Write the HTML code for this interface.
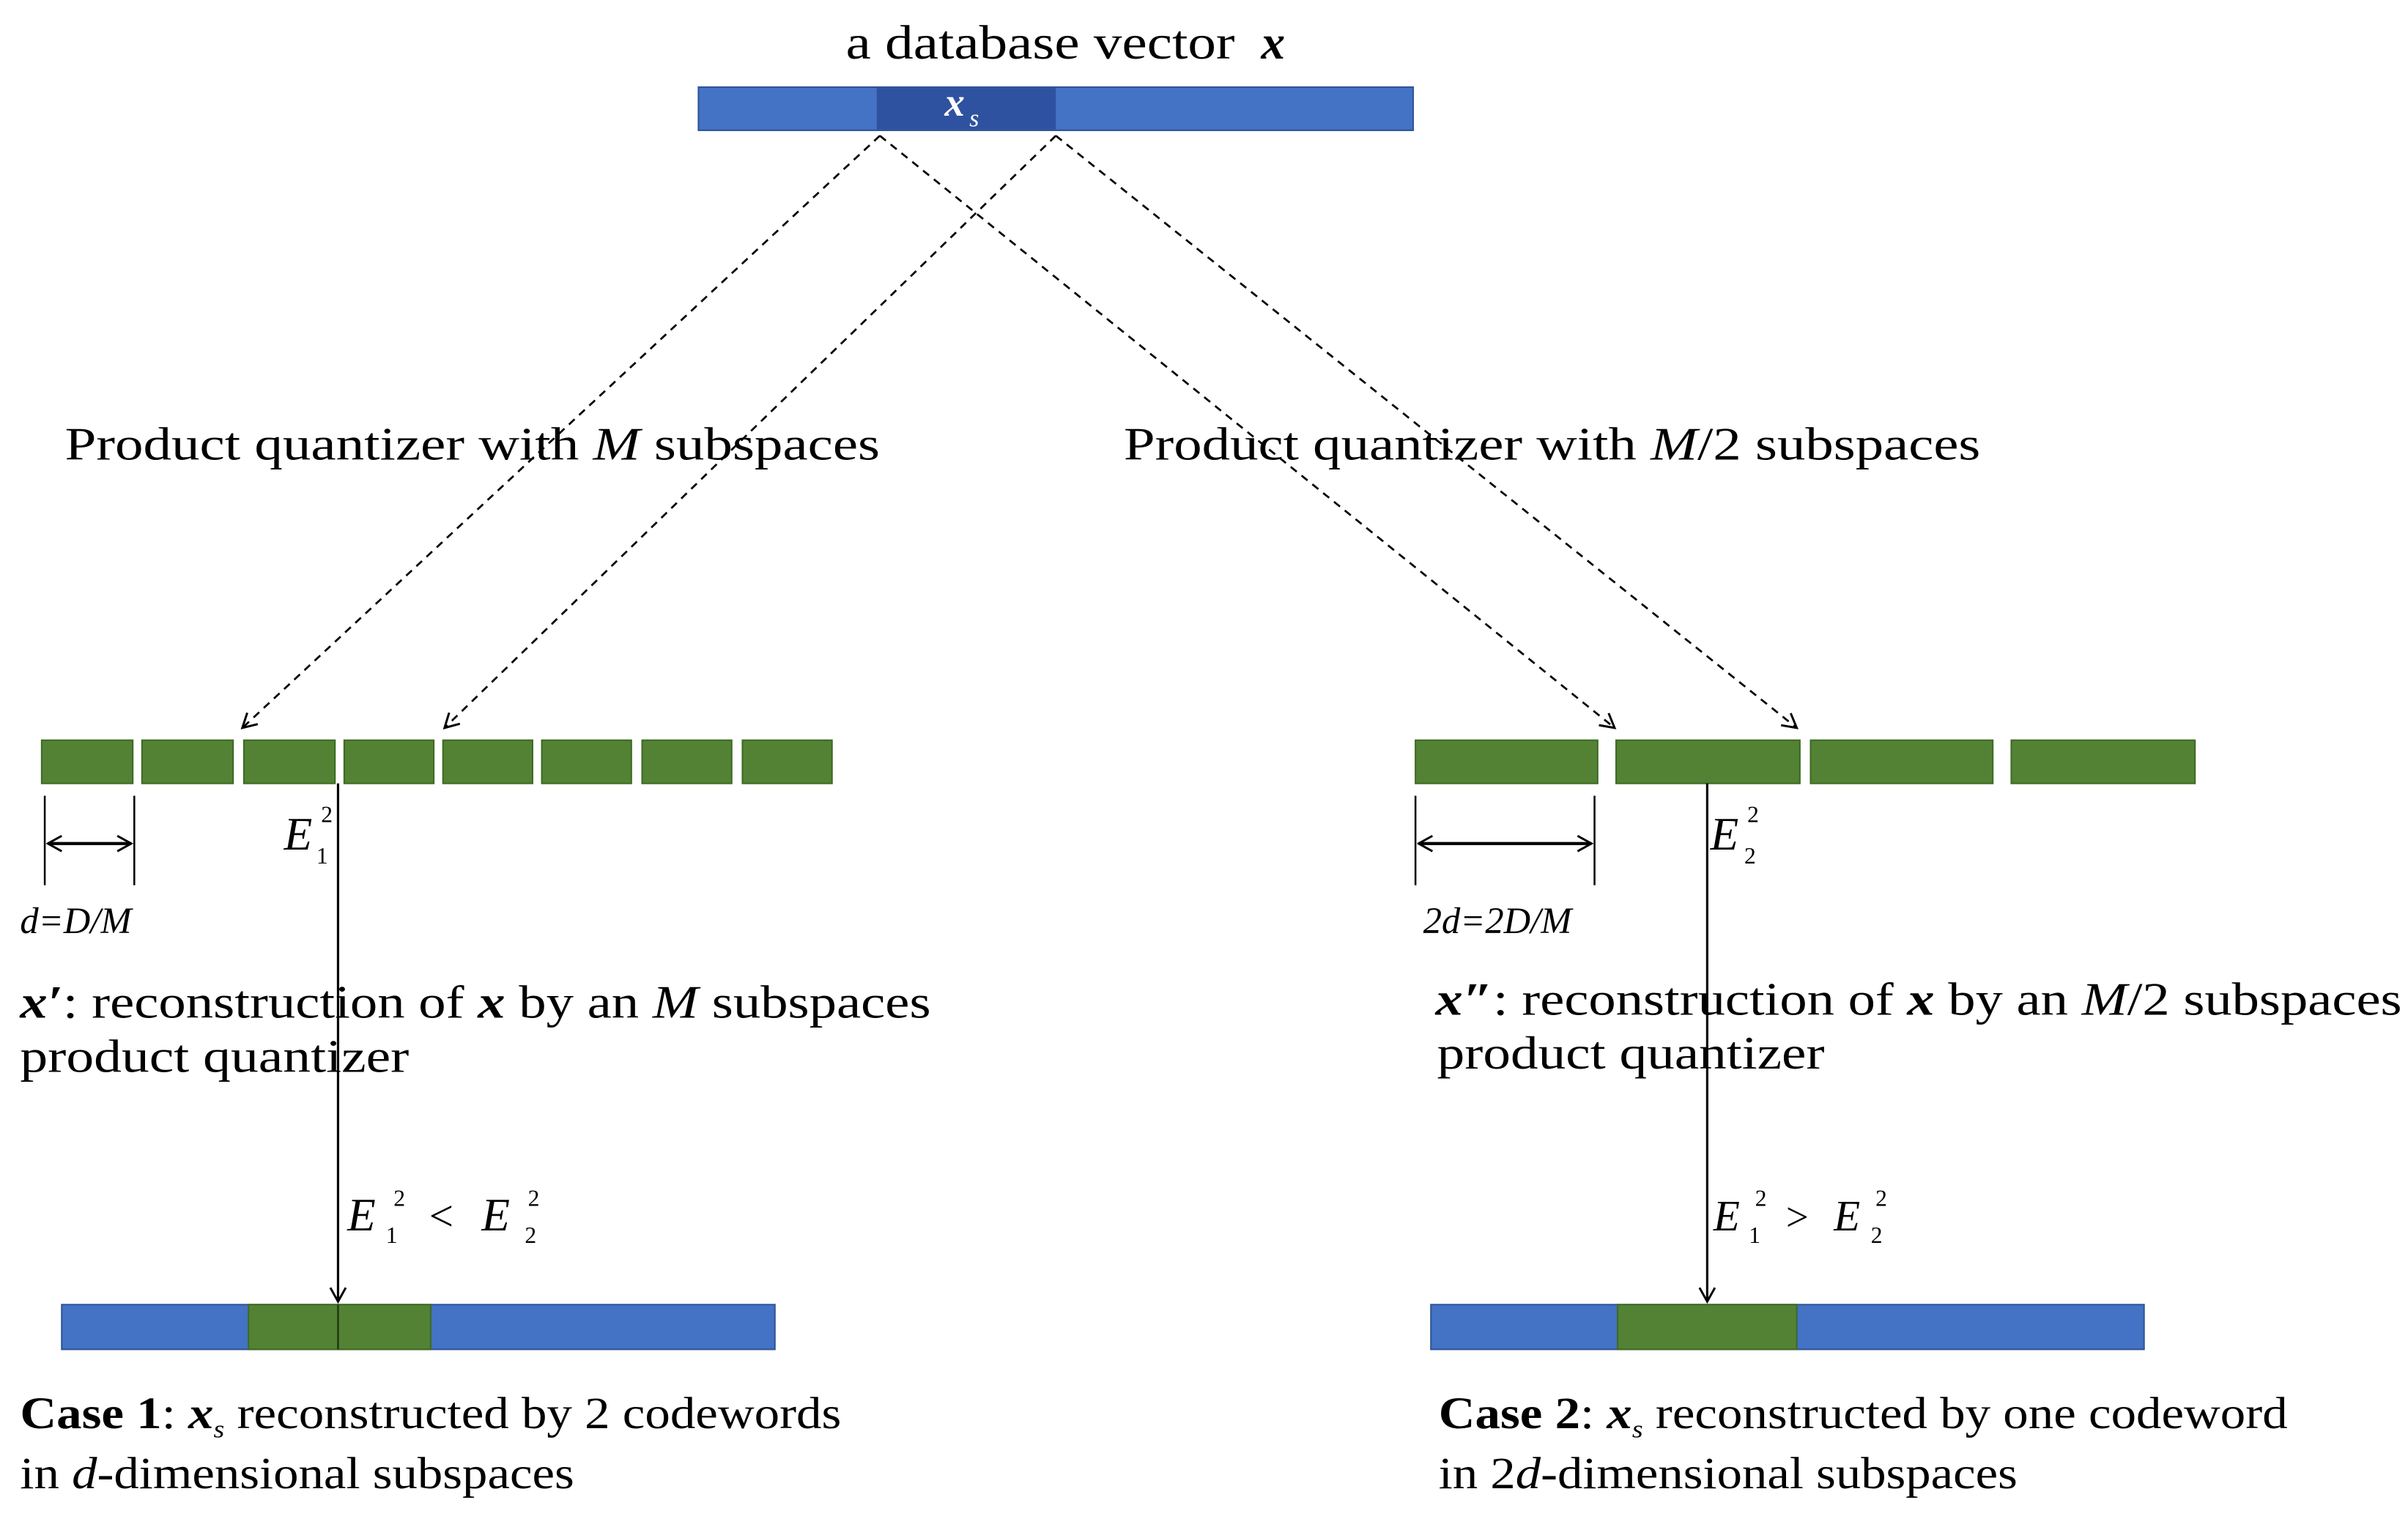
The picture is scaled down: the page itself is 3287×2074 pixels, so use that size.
<!DOCTYPE html>
<html><head><meta charset="utf-8"><style>
html,body{margin:0;padding:0;background:#fff;}
svg{display:block;}
text{font-family:"Liberation Serif",serif;fill:#000;}
</style></head><body>
<svg width="3287" height="2074" viewBox="0 0 1560 985" preserveAspectRatio="none" xmlns="http://www.w3.org/2000/svg">
<defs>
<marker id="ah" markerWidth="12" markerHeight="12" refX="10" refY="6" orient="auto" markerUnits="userSpaceOnUse">
<path d="M1,1 L10,6 L1,11" fill="none" stroke="#000" stroke-width="1.4"/>
</marker>
<marker id="ahs" markerWidth="12" markerHeight="12" refX="1" refY="6" orient="auto" markerUnits="userSpaceOnUse">
<path d="M10,1 L1,6 L10,11" fill="none" stroke="#000" stroke-width="1.4"/>
</marker>
</defs>

<!-- title -->
<text x="548" y="38" font-size="31" textLength="252" lengthAdjust="spacingAndGlyphs">a database vector</text>
<text x="817" y="38" font-size="31" font-style="italic" font-weight="bold">x</text>

<!-- top bar -->
<rect x="452.5" y="56.5" width="463" height="28" fill="#4472c4" stroke="#2f5597" stroke-width="1"/>
<rect x="568" y="57" width="116" height="27" fill="#2f52a0"/>
<text x="612" y="75" font-size="26" font-style="italic" font-weight="bold" fill="#fff" style="fill:#fff">x</text>
<text x="628" y="82" font-size="16" font-style="italic" style="fill:#fff">s</text>

<!-- dashed lines -->
<g stroke="#000" stroke-width="1.3" stroke-dasharray="5,4" fill="none">
<line x1="570" y1="88" x2="157" y2="472" marker-end="url(#ah)"/>
<line x1="684" y1="88" x2="288" y2="472" marker-end="url(#ah)"/>
<line x1="570" y1="88" x2="1046" y2="472" marker-end="url(#ah)"/>
<line x1="684" y1="88" x2="1164" y2="472" marker-end="url(#ah)"/>
</g>

<text x="42" y="298" font-size="30" textLength="528" lengthAdjust="spacingAndGlyphs">Product quantizer with <tspan font-style="italic">M</tspan> subspaces</text>
<text x="728" y="298" font-size="30" textLength="555" lengthAdjust="spacingAndGlyphs">Product quantizer with <tspan font-style="italic">M</tspan>/2 subspaces</text>

<!-- left green boxes -->
<g fill="#548235" stroke="#3d6b23" stroke-width="1">
<rect x="27" y="480" width="59" height="28"/>
<rect x="92" y="480" width="59" height="28"/>
<rect x="158" y="480" width="59" height="28"/>
<rect x="223" y="480" width="58" height="28"/>
<rect x="287" y="480" width="58" height="28"/>
<rect x="351" y="480" width="58" height="28"/>
<rect x="416" y="480" width="58" height="28"/>
<rect x="481" y="480" width="58" height="28"/>
</g>
<!-- right green boxes -->
<g fill="#548235" stroke="#3d6b23" stroke-width="1">
<rect x="917" y="480" width="118" height="28"/>
<rect x="1047" y="480" width="119" height="28"/>
<rect x="1173" y="480" width="118" height="28"/>
<rect x="1303" y="480" width="119" height="28"/>
</g>

<!-- dimension lines -->
<g stroke="#000" stroke-width="1.2">
<line x1="29" y1="516" x2="29" y2="574"/>
<line x1="87" y1="516" x2="87" y2="574"/>
<line x1="31" y1="547" x2="85" y2="547" stroke-width="2" marker-start="url(#ahs)" marker-end="url(#ah)"/>
<line x1="917" y1="516" x2="917" y2="574"/>
<line x1="1033" y1="516" x2="1033" y2="574"/>
<line x1="919" y1="547" x2="1031" y2="547" stroke-width="2" marker-start="url(#ahs)" marker-end="url(#ah)"/>
</g>
<text x="13" y="605" font-size="24" font-style="italic">d=D/M</text>
<text x="922" y="605" font-size="24" font-style="italic">2d=2D/M</text>

<!-- E labels -->
<text x="184" y="551" font-size="30" font-style="italic">E</text>
<text x="208" y="533" font-size="15">2</text><text x="205" y="560" font-size="15">1</text>
<text x="1108" y="551" font-size="30" font-style="italic">E</text>
<text x="1132" y="533" font-size="15">2</text><text x="1130" y="560" font-size="15">2</text>

<!-- vertical arrows -->
<line x1="219" y1="508" x2="219" y2="844" stroke="#000" stroke-width="1.5" marker-end="url(#ah)"/>
<line x1="1106" y1="508" x2="1106" y2="844" stroke="#000" stroke-width="1.5" marker-end="url(#ah)"/>

<!-- reconstruction text -->
<text x="13" y="660" font-size="30" textLength="590" lengthAdjust="spacingAndGlyphs"><tspan font-style="italic" font-weight="bold">x′</tspan>: reconstruction of  <tspan font-style="italic" font-weight="bold">x</tspan> by an <tspan font-style="italic">M</tspan> subspaces</text>
<text x="13" y="695" font-size="30" textLength="252" lengthAdjust="spacingAndGlyphs">product quantizer</text>
<text x="930" y="658" font-size="30" textLength="626" lengthAdjust="spacingAndGlyphs"><tspan font-style="italic" font-weight="bold">x″</tspan>: reconstruction of  <tspan font-style="italic" font-weight="bold">x</tspan> by an <tspan font-style="italic">M</tspan>/2 subspaces</text>
<text x="931" y="693" font-size="30" textLength="251" lengthAdjust="spacingAndGlyphs">product quantizer</text>

<!-- inequalities -->
<text x="225" y="798" font-size="30" font-style="italic">E</text>
<text x="255" y="782" font-size="15">2</text><text x="250" y="806" font-size="15">1</text>
<text x="278" y="798" font-size="28">&lt;</text>
<text x="312" y="798" font-size="30" font-style="italic">E</text>
<text x="342" y="782" font-size="15">2</text><text x="340" y="806" font-size="15">2</text>

<text x="1110" y="798" font-size="28" font-style="italic">E</text>
<text x="1137" y="782" font-size="15">2</text><text x="1133" y="806" font-size="15">1</text>
<text x="1157" y="798" font-size="26">&gt;</text>
<text x="1188" y="798" font-size="28" font-style="italic">E</text>
<text x="1215" y="782" font-size="15">2</text><text x="1212" y="806" font-size="15">2</text>

<!-- bottom bars -->
<rect x="40" y="846" width="462" height="29" fill="#4472c4" stroke="#2f5597" stroke-width="1"/>
<rect x="161" y="846" width="118" height="29" fill="#548235" stroke="#3d6b23" stroke-width="1"/>
<line x1="219" y1="846" x2="219" y2="875" stroke="#1e3a10" stroke-width="1.2"/>
<rect x="927" y="846" width="462" height="29" fill="#4472c4" stroke="#2f5597" stroke-width="1"/>
<rect x="1048" y="846" width="116" height="29" fill="#548235" stroke="#3d6b23" stroke-width="1"/>

<!-- case text -->
<text x="13" y="926" font-size="29" textLength="532" lengthAdjust="spacingAndGlyphs"><tspan font-weight="bold">Case 1</tspan>: <tspan font-style="italic" font-weight="bold">x</tspan><tspan font-style="italic" font-size="16" dy="6">s</tspan><tspan dy="-6"> reconstructed by 2 codewords</tspan></text>
<text x="13" y="965" font-size="29" textLength="359" lengthAdjust="spacingAndGlyphs">in <tspan font-style="italic">d</tspan>-dimensional subspaces</text>
<text x="932" y="926" font-size="29" textLength="550" lengthAdjust="spacingAndGlyphs"><tspan font-weight="bold">Case 2</tspan>: <tspan font-style="italic" font-weight="bold">x</tspan><tspan font-style="italic" font-size="16" dy="6">s</tspan><tspan dy="-6"> reconstructed by one codeword</tspan></text>
<text x="932" y="965" font-size="29" textLength="375" lengthAdjust="spacingAndGlyphs">in 2<tspan font-style="italic">d</tspan>-dimensional subspaces</text>
</svg>
</body></html>
